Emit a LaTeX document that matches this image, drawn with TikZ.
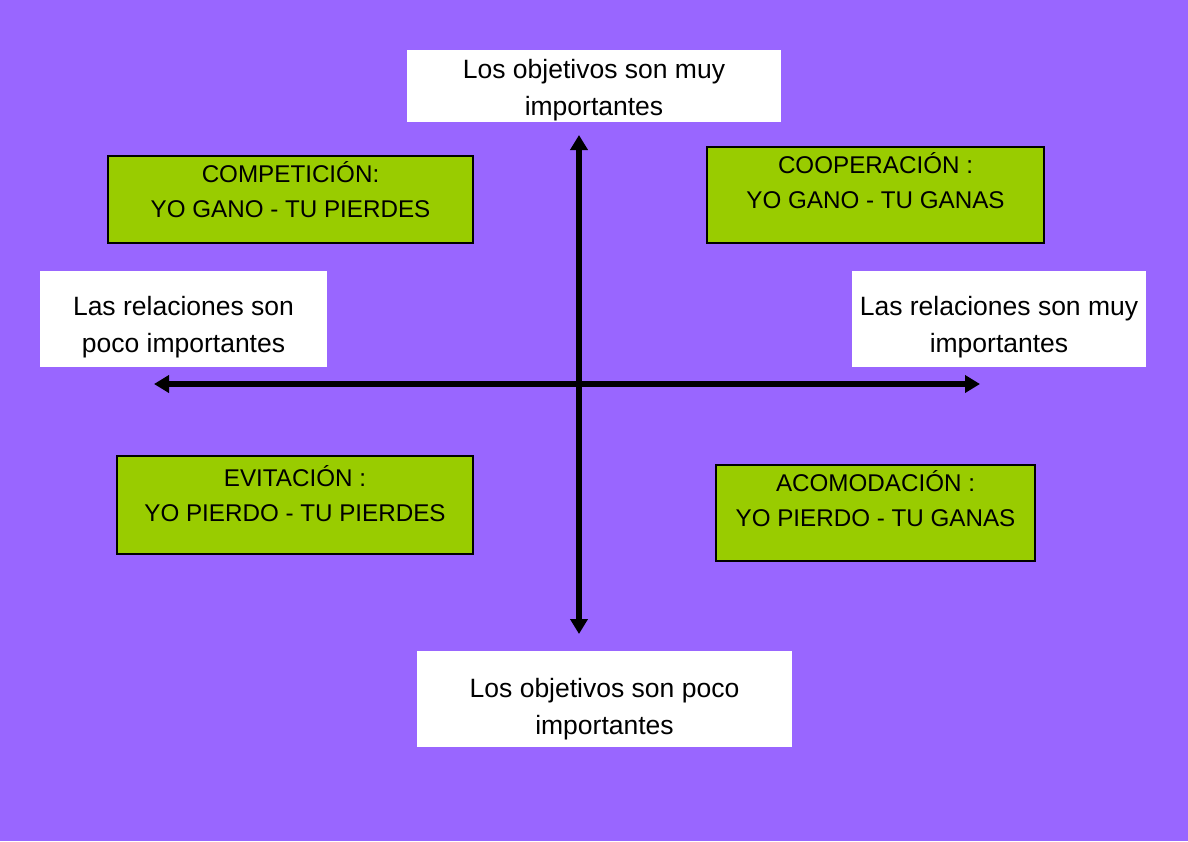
\documentclass[tikz,border=0pt]{standalone}
\usepackage{fontspec}
\setmainfont{Liberation Sans}
\usetikzlibrary{arrows.meta}
\definecolor{bgpurple}{HTML}{9966FF}
\definecolor{boxgreen}{HTML}{99CC00}
\tikzset{
  whitebox/.style={fill=white, draw=none, inner sep=0pt},
  greenbox/.style={fill=boxgreen, draw=black, line width=2pt, inner sep=0pt},
  wtext/.style={align=center, font=\fontsize{26.5}{37}\selectfont, inner sep=0pt},
  gtext/.style={align=center, font=\fontsize{24.2}{35}\selectfont, inner sep=0pt},
  axis/.style={line width=6pt, -{Triangle[length=15pt,width=17pt]}}
}
\begin{document}
\begin{tikzpicture}[x=1pt,y=-1pt]
\fill[bgpurple] (0,0) rectangle (1188,841);
\useasboundingbox (0,0) rectangle (1188,841);
% boxes
\node[whitebox, minimum width=374pt, minimum height=72pt] (top) at (594,86) {};
\node[whitebox, minimum width=287pt, minimum height=96pt] (left) at (183.5,319) {};
\node[whitebox, minimum width=294pt, minimum height=96pt] (right) at (999,319) {};
\node[whitebox, minimum width=375pt, minimum height=96pt] (bottom) at (604.5,699) {};
\node[greenbox, minimum width=365pt, minimum height=87pt] (comp) at (290.5,199.5) {};
\node[greenbox, minimum width=337pt, minimum height=96pt] (coop) at (875.5,195) {};
\node[greenbox, minimum width=356pt, minimum height=98pt] (evit) at (295,505) {};
\node[greenbox, minimum width=319pt, minimum height=96pt] (acom) at (875.5,513) {};
% texts
\node[wtext] (toptxt) at ([yshift=-4pt]top.center) {Los objetivos son muy\\importantes};
\node[wtext] (lefttxt) at ([yshift=-8pt]left.center) {Las relaciones son\\poco importantes};
\node[wtext] (righttxt) at ([yshift=-8pt]right.center) {Las relaciones son muy\\importantes};
\node[wtext] (bottxt) at ([yshift=-10pt]bottom.center) {Los objetivos son poco\\importantes};
\node[gtext] (comptxt) at ([yshift=10pt]comp.center) {COMPETICIÓN:\\YO GANO - TU PIERDES};
\node[gtext] (cooptxt) at ([yshift=14pt]coop.center) {COOPERACIÓN :\\YO GANO - TU GANAS};
\node[gtext] (evittxt) at ([yshift=11pt]evit.center) {EVITACIÓN :\\YO PIERDO - TU PIERDES};
\node[gtext] (acomtxt) at ([yshift=14pt]acom.center) {ACOMODACIÓN :\\YO PIERDO - TU GANAS};
% axes
\coordinate (origin) at (579,384);
\coordinate (vtop) at (579,135);
\coordinate (vbot) at (579,634);
\coordinate (hleft) at (154,384);
\coordinate (hright) at (980,384);
\draw[axis] (origin) -- (vtop);
\draw[axis] (origin) -- (vbot);
\draw[axis] (origin) -- (hleft);
\draw[axis] (origin) -- (hright);
\end{tikzpicture}
\end{document}
